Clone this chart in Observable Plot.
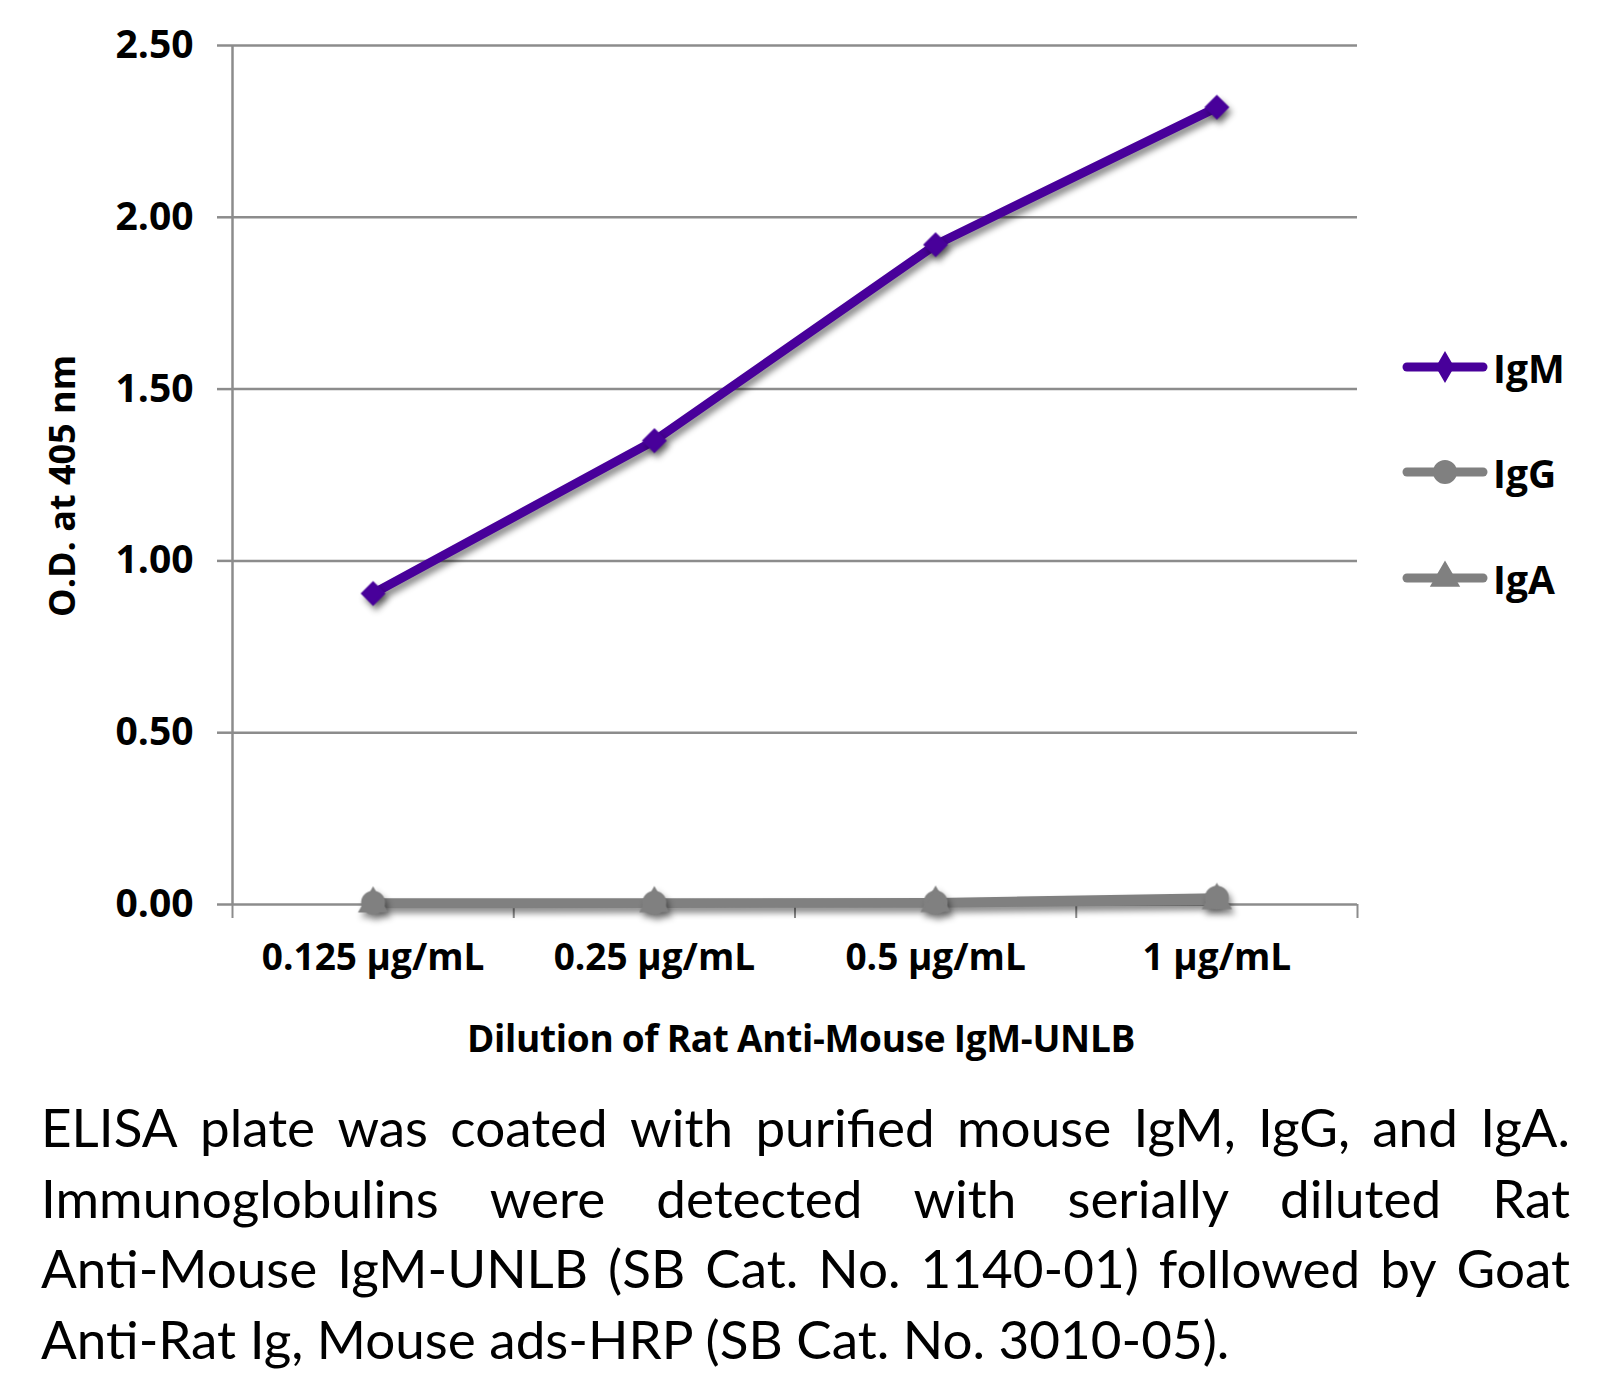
<!DOCTYPE html>
<html><head><meta charset="utf-8">
<script src="https://cdn.jsdelivr.net/npm/d3@7"></script>
<script src="https://cdn.jsdelivr.net/npm/@observablehq/plot@0.6"></script>
<style>
body{margin:0;background:#fff;}
#wrap{position:relative;width:1620px;height:1373px;font-family:Lato,"Open Sans",sans-serif;overflow:hidden;color:#000}
#chart{position:absolute;left:0;top:0}
.xtitle{position:absolute;left:0;width:1620px;top:1012px;text-align:center;font-family:"Open Sans",sans-serif;font-weight:700;font-size:37px;padding-right:18px;box-sizing:border-box;word-spacing:-1px;letter-spacing:-0.3px}
.ytitle{position:absolute;left:61px;top:486px;transform:translate(-50%,-50%) rotate(-90deg);font-family:"Open Sans",sans-serif;font-weight:700;font-size:36px;white-space:nowrap}
.legrow{position:absolute;left:1400px;height:44px;display:flex;align-items:center}
.legrow span{font-family:"Open Sans",sans-serif;font-weight:700;font-size:39px;margin-left:3px}
.cap{position:absolute;left:41px;width:1529px;font-size:53px;line-height:70px;white-space:nowrap}
.cap.j{display:flex;justify-content:space-between}
</style></head><body><div id="wrap"><div id="chart"></div></div>
<script>
const categories = ["0.125 µg/mL", "0.25 µg/mL", "0.5 µg/mL", "1 µg/mL"];
const seriesNames = ["IgM", "IgG", "IgA"];
const igM = [0.905, 1.35, 1.92, 2.32];
const igG = [0.005, 0.005, 0.006, 0.02];
const igA = [0.002, 0.003, 0.004, 0.012];
const yTicks = [0, 0.5, 1.0, 1.5, 2.0, 2.5];
const seriesColors = ["#48009a", "#808080", "#808080"];
const seriesSymbols = ["diamond2", "circle", "triangle"];
const seriesSizes = [10, 11, 10];
const xTitle = "Dilution of Rat Anti-Mouse IgM-UNLB";
const yTitle = "O.D. at 405 nm";
const captionLines = [
  "ELISA plate was coated with purified mouse IgM, IgG, and IgA.",
  "Immunoglobulins were detected with serially diluted Rat",
  "Anti-Mouse IgM-UNLB (SB Cat. No. 1140-01) followed by Goat",
  "Anti-Rat Ig, Mouse ads-HRP (SB Cat. No. 3010-05)."
];

const valuesBySeries = [igM, igG, igA];
const rows = [];
seriesNames.forEach((s, si) => valuesBySeries[si].forEach((v, i) => rows.push({series: s, i, cat: categories[i], value: v, r: seriesSizes[si]})));
const idx = d3.range(categories.length);
const bounds = d3.range(categories.length + 1).map(i => i - 0.5);
const gray = "#8c8c8c";

const plot = Plot.plot({
  width: 1620, height: 1080,
  marginTop: 45, marginBottom: 176, marginLeft: 232, marginRight: 263,
  style: {fontFamily: "'Open Sans', Lato, sans-serif", fontWeight: 700, fontSize: "36px", color: "#000", background: "transparent"},
  x: {domain: [-0.5, categories.length - 0.5], axis: null},
  y: {domain: [0, 2.5], axis: null},
  color: {domain: seriesNames, range: seriesColors},
  symbol: {domain: seriesNames, range: seriesSymbols},
  r: {type: "identity"},
  marks: [
    Plot.ruleY(yTicks, {stroke: gray, strokeWidth: 2.5, strokeOpacity: 1}),
    Plot.ruleX([-0.5], {stroke: gray, strokeWidth: 2.5, strokeOpacity: 1}),
    Plot.axisY({ticks: yTicks, tickFormat: d3.format(".2f"), tickSize: 15, tickPadding: 24, stroke: gray, strokeWidth: 2.5, strokeOpacity: 1, fill: "#000", label: null, fontSize: 39}),
    Plot.axisX({ticks: bounds, tickFormat: () => "", tickSize: 14, stroke: gray, strokeWidth: 2, strokeOpacity: 1, label: null}),
    Plot.axisX({ticks: idx, tickFormat: i => categories[i], tickSize: 0, tickPadding: 39, fill: "#000", label: null, fontSize: 37}),
    Plot.line(rows, {x: "i", y: "value", z: "series", stroke: "series", strokeWidth: 9, strokeLinejoin: "round", strokeLinecap: "round"}),
    Plot.dot(rows, {x: "i", y: "value", symbol: "series", fill: "series", stroke: "series", strokeWidth: 2, r: "r"})
  ]
});
d3.select(plot).selectAll('g[aria-label="line"], g[aria-label="dot"]').style("filter", "drop-shadow(3px 5px 3px rgba(0,0,0,0.45))");
document.getElementById("chart").appendChild(plot);

const wrap = d3.select("#wrap");
wrap.append("div").attr("class", "xtitle").text(xTitle);
wrap.append("div").attr("class", "ytitle").text(yTitle);

const legY = [367, 472, 578];
const legendSymbols = [d3.symbolDiamond, d3.symbolCircle, d3.symbolTriangle];
const legendSizes = [8.5, 11, 10];
seriesNames.forEach((s, si) => {
  const row = wrap.append("div").attr("class", "legrow").style("top", (legY[si] - 22) + "px");
  const svg = row.append("svg").attr("width", 90).attr("height", 44);
  svg.append("line").attr("x1", 7).attr("x2", 83).attr("y1", 22).attr("y2", 22)
    .attr("stroke", seriesColors[si]).attr("stroke-width", 9).attr("stroke-linecap", "round");
  svg.append("path").attr("transform", "translate(45,22)")
    .attr("d", d3.symbol(legendSymbols[si], Math.PI * legendSizes[si] ** 2)())
    .attr("fill", seriesColors[si]).attr("stroke", seriesColors[si]).attr("stroke-width", 2);
  row.append("span").text(s);
});

captionLines.forEach((line, li) => {
  const d = wrap.append("div").attr("class", "cap" + (li < 3 ? " j" : "")).style("top", (1092 + 70.5 * li) + "px");
  if (li < 3) line.split(" ").forEach(w => d.append("span").text(w));
  else d.text(line);
});
</script>
</body></html>
